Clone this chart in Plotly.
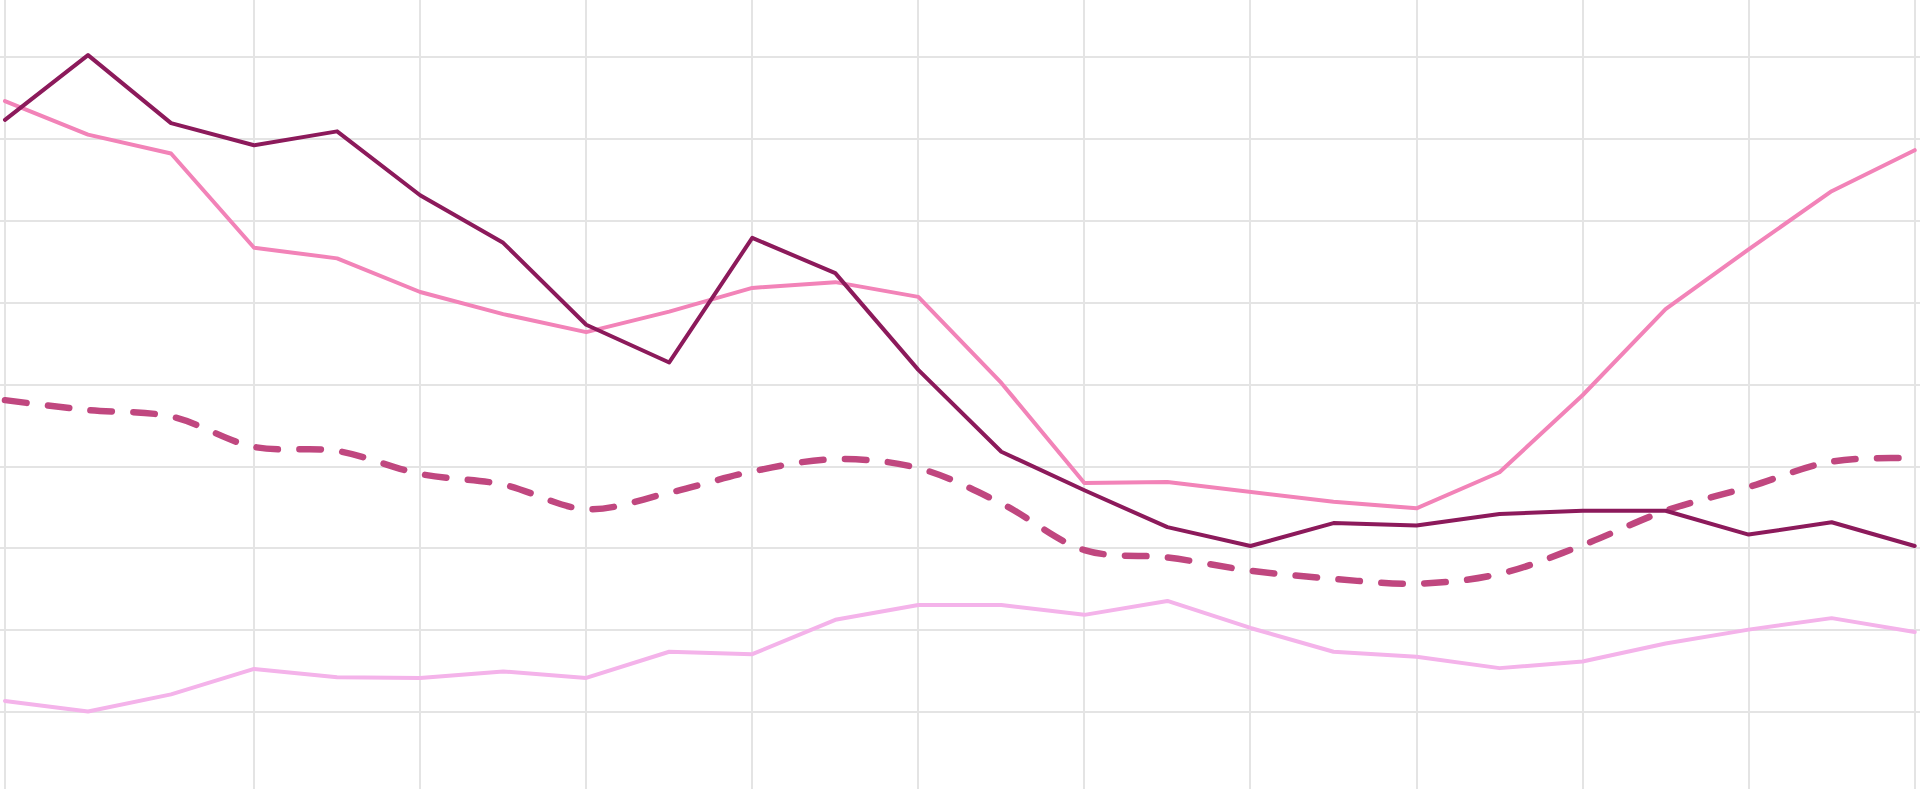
import plotly.graph_objects as go

# x positions (24 periods)
periods = list(range(24))

series_dark = [72.3, 80.2, 71.9, 69.2, 70.9, 63.1, 57.3, 47.3, 42.7, 57.9, 53.6, 41.8,
               31.8, 27.1, 22.6, 20.3, 23.1, 22.8, 24.2, 24.6, 24.6, 21.7, 23.2, 20.3]
series_pink = [74.6, 70.5, 68.2, 56.7, 55.4, 51.3, 48.6, 46.4, 48.9, 51.8, 52.5, 50.7,
               40.2, 28.0, 28.1, 26.9, 25.7, 24.9, 29.3, 38.7, 49.2, 56.5, 63.6, 68.6]
series_dashed = [38.1, 36.9, 36.1, 32.4, 31.9, 29.1, 27.8, 24.8, 26.8, 29.4, 30.9, 29.8,
                 25.5, 19.8, 18.9, 17.3, 16.3, 15.7, 16.9, 20.4, 24.6, 27.5, 30.6, 31.0]
series_light = [1.4, 0.1, 2.2, 5.3, 4.3, 4.2, 5.0, 4.2, 7.4, 7.1, 11.3, 13.1,
                13.1, 11.9, 13.6, 10.3, 7.4, 6.8, 5.4, 6.2, 8.4, 10.1, 11.5, 9.8]

x_tickvals = [0, 3, 5, 7, 9, 11, 13, 15, 17, 19, 21, 23]
y_tickvals = [0, 10, 20, 30, 40, 50, 60, 70, 80]

fig = go.Figure()
fig.add_trace(go.Scatter(x=periods, y=series_light, mode="lines",
                         line=dict(color="#f4b3ea", width=4)))
fig.add_trace(go.Scatter(x=periods, y=series_dashed, mode="lines",
                         line=dict(color="#c0477f", width=6.5, dash="21.5px,21.5px",
                                   shape="spline", smoothing=1)))
fig.add_trace(go.Scatter(x=periods, y=series_pink, mode="lines",
                         line=dict(color="#f283b8", width=4)))
fig.add_trace(go.Scatter(x=periods, y=series_dark, mode="lines",
                         line=dict(color="#8c1a5b", width=4)))

fig.update_layout(
    width=1920, height=789,
    margin=dict(l=0, r=0, t=0, b=0),
    paper_bgcolor="white", plot_bgcolor="white",
    showlegend=False,
    xaxis=dict(range=[-0.060, 23.064], tickvals=x_tickvals, showticklabels=False,
               showgrid=True, gridcolor="#e4e4e4", gridwidth=2, zeroline=False,
               showline=False, ticks=""),
    yaxis=dict(range=[-9.35, 86.93], tickvals=y_tickvals, showticklabels=False,
               showgrid=True, gridcolor="#e4e4e4", gridwidth=2, zeroline=False,
               showline=False, ticks=""),
)

post = """
document.body.style.margin='0';
document.body.style.overflow='hidden';
document.querySelectorAll('.scatterlayer path.js-line').forEach(function(p){
  p.style.strokeLinecap='round'; p.style.strokeLinejoin='round';
});
"""
fig.write_html("out.html", post_script=post, config={"displayModeBar": False})
